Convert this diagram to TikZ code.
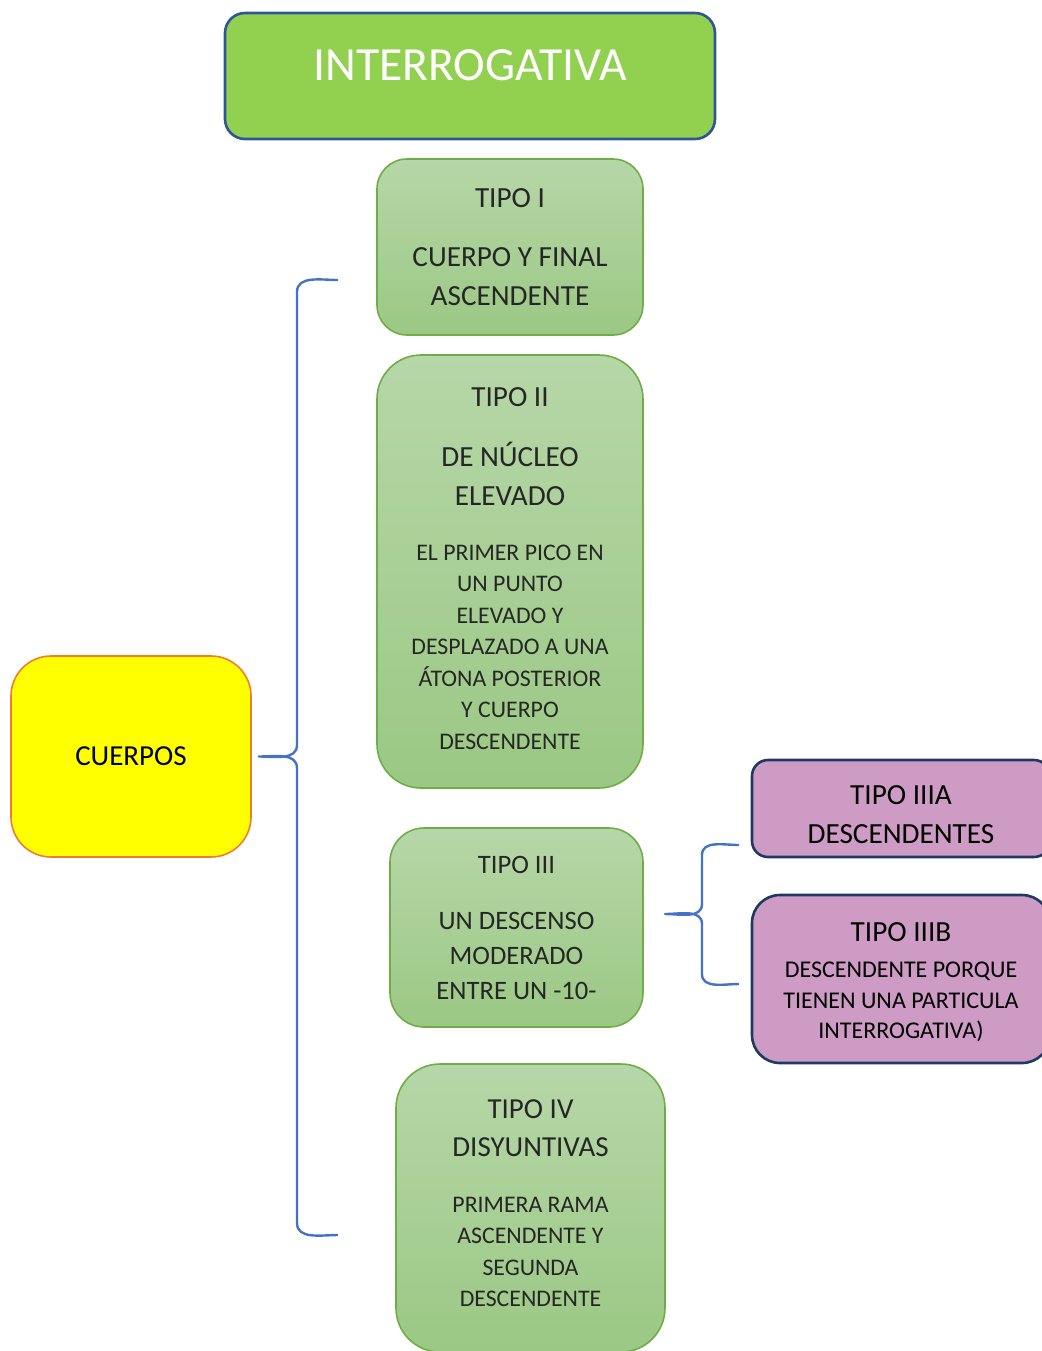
\documentclass[tikz,border=0pt]{standalone}
\usepackage{fontspec}
\setmainfont{Carlito}
\definecolor{titlegreen}{HTML}{92D050}
\definecolor{titleblue}{HTML}{2F5597}
\definecolor{greentop}{HTML}{B6D7A8}
\definecolor{greenbot}{HTML}{9BC884}
\definecolor{greenline}{HTML}{70AD47}
\definecolor{purplefill}{HTML}{CD9BC4}
\definecolor{navyline}{HTML}{203864}
\definecolor{bracecol}{HTML}{4472C4}
\definecolor{orangeline}{HTML}{ED7D31}
\definecolor{yellowfill}{HTML}{FFFF00}
\definecolor{textgray}{HTML}{262626}
\newcommand{\bigtxt}{\fontsize{14.6}{19.5}\selectfont}
\newcommand{\smalltxt}{\fontsize{11.9}{15.75}\selectfont}
\begin{document}
\begin{tikzpicture}[x=0.5pt,y=-0.5pt,line join=round,
	greenbox/.style={draw=greenline,line width=0.8pt,top color=greentop,bottom color=greenbot,text=textgray,align=center,inner sep=0pt,font=\bigtxt},
	purplebox/.style={draw=navyline,line width=1.3pt,fill=purplefill,align=center,inner sep=0pt,font=\bigtxt,minimum width=149pt},
	bracestyle/.style={draw=bracecol,line width=1.2pt}]
	\useasboundingbox (0,0) rectangle (1042,1351);
	\clip (0,0) rectangle (1042,1351);
	\node[draw=titleblue,line width=1.3pt,fill=titlegreen,rounded corners=10pt,minimum width=245pt,minimum height=63pt,
		text=white,font=\fontsize{23.8}{28}\selectfont,text height=16pt,text depth=12pt] (title) at (470,76) {INTERROGATIVA};
	\node[greenbox,rounded corners=15pt,minimum width=133pt,minimum height=88pt] (tipoI) at (510,247)
		{TIPO I\\[10pt]CUERPO Y FINAL\\ASCENDENTE};
	\node[greenbox,rounded corners=22pt,minimum width=133pt,minimum height=216.5pt] (tipoII) at (510,571.5)
		{\rule{0pt}{11pt}TIPO II\\[10.5pt]DE NÚCLEO\\ELEVADO\\[8pt]{\smalltxt\begin{tabular}[t]{@{}c@{}}EL PRIMER PICO EN\\UN PUNTO\\ELEVADO Y\\DESPLAZADO A UNA\\ÁTONA POSTERIOR\\Y CUERPO\\DESCENDENTE\end{tabular}}};
	\node[greenbox,rounded corners=17pt,minimum width=126.5pt,minimum height=99.5pt,font=\fontsize{13.3}{17.5}\selectfont] (tipoIII) at (516.5,927.5)
		{TIPO III\\[10.5pt]UN DESCENSO\\MODERADO\\ENTRE UN -10-};
	\node[greenbox,rounded corners=22pt,minimum width=134.5pt,minimum height=144pt,font=\fontsize{14.5}{19}\selectfont] (tipoIV) at (530.5,1208)
		{TIPO IV\\DISYUNTIVAS\\[9pt]{\smalltxt\begin{tabular}[t]{@{}c@{}}PRIMERA RAMA\\ASCENDENTE Y\\SEGUNDA\\DESCENDENTE\end{tabular}}};
	\node[draw=orangeline,line width=0.8pt,fill=yellowfill,rounded corners=20pt,minimum width=120pt,minimum height=100.5pt,
		font=\fontsize{14.5}{19}\selectfont] (cuerpos) at (131,756.5) {CUERPOS};
	\node[purplebox,rounded corners=8pt,minimum height=48.5pt] (tipoIIIa) at (901,808.5) {\rule{0pt}{15.5pt}TIPO IIIA\\DESCENDENTES};
	\node[purplebox,rounded corners=14pt,minimum height=84pt] (tipoIIIb) at (901,979)
		{\rule{0pt}{16pt}TIPO IIIB\\[-1.5pt]{\fontsize{12}{15.25}\selectfont\begin{tabular}[t]{@{}c@{}}DESCENDENTE PORQUE\\TIENEN UNA PARTICULA\\INTERROGATIVA)\end{tabular}}};
	\coordinate (b1top) at (338,280);
	\coordinate (b1bot) at (338,1235);
	\coordinate (b1tip) at ([xshift=3.5pt]cuerpos.east);
	\draw[bracestyle] (b1top) to[out=180,in=90] (297,292) -- (297,745) to[out=-90,in=0] (b1tip)
		to[out=0,in=90] (297,768) -- (297,1223) to[out=-90,in=180] (b1bot);
	\coordinate (b2top) at (739,845);
	\coordinate (b2bot) at (739,984);
	\coordinate (b2tip) at (665,914);
	\draw[bracestyle] (b2top) to[out=180,in=90] (702,855) -- (702,904) to[out=-90,in=0] (b2tip)
		to[out=0,in=90] (702,924) -- (702,974) to[out=-90,in=180] (b2bot);
\end{tikzpicture}
\end{document}
